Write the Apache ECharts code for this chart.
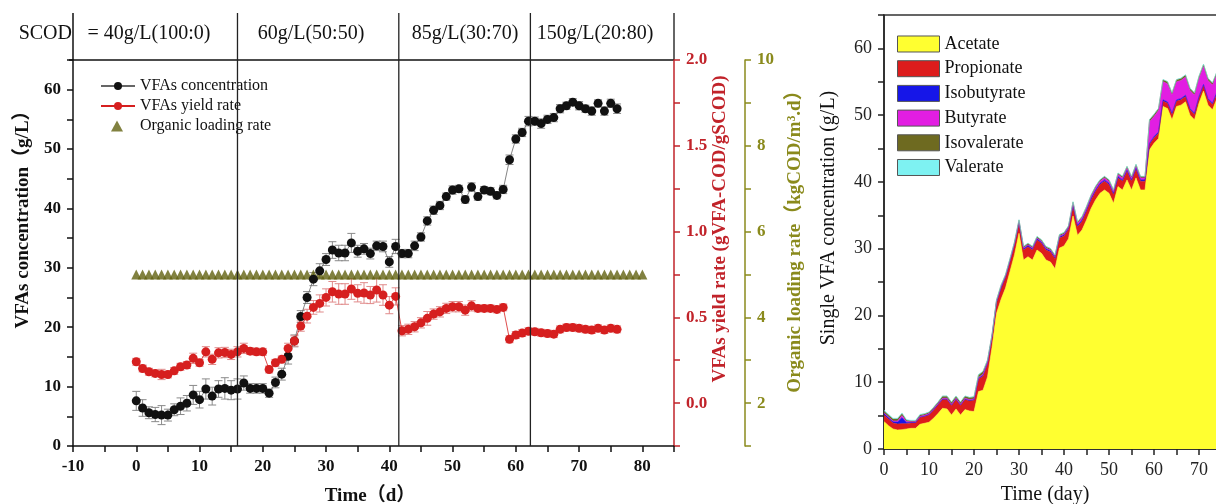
<!DOCTYPE html>
<html><head><meta charset="utf-8">
<script src="https://cdn.jsdelivr.net/npm/echarts@6/dist/echarts.min.js"></script>
<style>html,body{margin:0;padding:0;background:#fff}#c{width:1216px;height:504px}</style>
</head><body><div id="c"></div>
<script>
// ---------- data ----------
const days = [0,1,2,3,4,5,6,7,8,9,10,11,12,13,14,15,16,17,18,19,20,21,22,23,24,25,26,27,28,29,30,31,32,33,34,35,36,37,38,39,40,41,42,43,44,45,46,47,48,49,50,51,52,53,54,55,56,57,58,59,60,61,62,63,64,65,66,67,68,69,70,71,72,73,74,75,76];
const vfaConc = [7.6,6.4,5.6,5.3,5.2,5.2,6.1,6.7,7.2,8.6,7.8,9.6,8.4,9.6,9.7,9.4,9.6,10.6,9.7,9.7,9.7,8.9,10.7,12.1,15.1,17.7,21.8,25.0,28.1,29.5,31.4,33.0,32.5,32.5,34.2,32.8,33.2,32.4,33.7,33.6,31.0,33.6,32.4,32.4,33.7,35.2,37.9,39.7,40.5,42.0,43.1,43.3,41.5,43.6,42.0,43.1,42.9,42.2,43.2,48.2,51.7,52.8,54.7,54.7,54.3,55.0,55.3,56.8,57.3,57.9,57.3,56.8,56.4,57.7,56.4,57.7,56.8];
const vfaConcErr = [1.6,1.4,1.0,1.2,1.6,1.0,1.0,1.4,1.3,1.6,1.4,1.7,1.5,1.4,1.8,1.6,1.7,1.2,0.8,0.8,0.8,0.7,0.9,1.0,1.3,1.0,1.0,1.0,1.1,1.2,1.0,1.4,1.3,1.3,1.6,1.0,0.9,0.9,0.8,0.9,0.9,1.2,0.7,0.7,0.8,0.7,0.7,0.7,0.7,0.6,0.7,0.6,0.6,0.7,0.6,0.6,0.6,0.6,0.7,0.8,0.7,0.7,0.8,0.7,0.8,0.7,0.7,0.7,0.6,0.6,0.7,0.6,0.7,0.6,0.7,0.7,0.8];
const vfaYield = [0.241,0.202,0.183,0.173,0.167,0.167,0.188,0.212,0.222,0.261,0.235,0.299,0.255,0.293,0.295,0.284,0.299,0.319,0.303,0.299,0.299,0.196,0.235,0.255,0.319,0.362,0.449,0.507,0.558,0.581,0.616,0.649,0.636,0.636,0.665,0.640,0.642,0.630,0.659,0.630,0.571,0.622,0.422,0.430,0.445,0.468,0.494,0.519,0.532,0.552,0.562,0.562,0.542,0.567,0.552,0.552,0.552,0.546,0.558,0.372,0.397,0.408,0.419,0.416,0.410,0.406,0.402,0.430,0.441,0.441,0.436,0.430,0.426,0.436,0.426,0.436,0.430];
const vfaYieldErr = [0.02,0.02,0.02,0.02,0.03,0.02,0.02,0.02,0.02,0.03,0.02,0.03,0.03,0.03,0.03,0.03,0.03,0.03,0.02,0.02,0.02,0.02,0.02,0.02,0.03,0.03,0.03,0.04,0.04,0.05,0.05,0.06,0.06,0.06,0.06,0.05,0.06,0.05,0.07,0.06,0.05,0.05,0.03,0.03,0.03,0.03,0.04,0.03,0.03,0.03,0.03,0.03,0.03,0.03,0.02,0.02,0.02,0.02,0.02,0.02,0.02,0.02,0.02,0.02,0.02,0.02,0.02,0.02,0.02,0.02,0.02,0.02,0.02,0.02,0.02,0.02,0.02];
const olrDays = [0,1,2,3,4,5,6,7,8,9,10,11,12,13,14,15,16,17,18,19,20,21,22,23,24,25,26,27,28,29,30,31,32,33,34,35,36,37,38,39,40,41,42,43,44,45,46,47,48,49,50,51,52,53,54,55,56,57,58,59,60,61,62,63,64,65,66,67,68,69,70,71,72,73,74,75,76,77,78,79,80];
const olr = [5.0,5.0,5.0,5.0,5.0,5.0,5.0,5.0,5.0,5.0,5.0,5.0,5.0,5.0,5.0,5.0,5.0,5.0,5.0,5.0,5.0,5.0,5.0,5.0,5.0,5.0,5.0,5.0,5.0,5.0,5.0,5.0,5.0,5.0,5.0,5.0,5.0,5.0,5.0,5.0,5.0,5.0,5.0,5.0,5.0,5.0,5.0,5.0,5.0,5.0,5.0,5.0,5.0,5.0,5.0,5.0,5.0,5.0,5.0,5.0,5.0,5.0,5.0,5.0,5.0,5.0,5.0,5.0,5.0,5.0,5.0,5.0,5.0,5.0,5.0,5.0,5.0,5.0,5.0,5.0,5.0];
const phaseDays = [16, 41.5, 62.3];
const phaseLabels = ['= 40g/L(100:0)', '60g/L(50:50)', '85g/L(30:70)', '150g/L(20:80)'];
const xRangeLeft = [-10, 85];
const acidAxisDays = ['0','1','2','3','4','5','6','7','8','9','10','11','12','13','14','15','16','17','18','19','20','21','22','23','24','25','26','27','28','29','30','31','32','33','34','35','36','37','38','39','40','41','42','43','44','45','46','47','48','49','50','51','52','53','54','55','56','57','58','59','60','61','62','63','64','65','66','67','68','69','70','71','72','73','74','75','76','77','78','79','80'];
const acetate = [4.1,3.5,3.0,2.85,2.9,3.0,3.1,3.1,3.7,3.85,4.0,4.6,5.3,6.1,6.0,5.1,6.0,5.1,5.9,5.7,5.6,8.6,8.8,10.8,15.2,20.3,22.4,24.1,26.6,29.1,32.3,28.3,28.8,28.3,29.8,29.3,28.3,28.0,27.0,30.1,30.4,31.5,34.9,32.0,32.8,34.3,36.0,37.3,38.3,38.8,38.3,36.8,39.3,38.8,40.3,38.8,40.6,38.8,38.8,44.8,45.8,46.5,51.3,51.0,49.3,51.3,51.5,52.0,50.0,49.3,51.8,53.6,51.5,50.8,52.5,52.0,52.5];
const propionate = [1.0,1.0,0.9,0.9,0.9,0.8,0.8,0.8,1.0,1.0,1.1,1.2,1.3,1.3,1.4,1.4,1.4,1.4,1.5,1.5,1.7,1.9,2.1,1.9,1.5,1.6,1.6,1.6,1.5,1.5,1.5,1.5,1.5,1.5,1.5,1.5,1.5,1.5,1.5,1.5,1.5,1.4,1.4,1.3,1.3,1.3,1.3,1.3,1.3,1.3,1.3,1.3,1.3,1.3,1.3,1.3,1.3,1.3,1.3,0.8,0.8,0.8,0.8,0.8,0.8,0.8,0.8,0.8,0.8,0.8,0.8,0.8,0.8,0.8,0.8,0.8,0.8];
const isobutyrate = [0.2,0.2,0.2,0.3,0.9,0.2,0.1,0.1,0.1,0.1,0.1,0.1,0.1,0.1,0.1,0.1,0.1,0.1,0.1,0.1,0.1,0.1,0.2,0.2,0.1,0.1,0.1,0.1,0.1,0.1,0.2,0.2,0.2,0.2,0.2,0.2,0.2,0.2,0.2,0.2,0.2,0.2,0.2,0.2,0.2,0.2,0.2,0.2,0.2,0.2,0.2,0.2,0.2,0.2,0.2,0.2,0.2,0.2,0.2,0.2,0.2,0.2,0.2,0.2,0.2,0.2,0.2,0.2,0.2,0.2,0.2,0.2,0.2,0.2,0.2,0.2,0.2];
const butyrate = [0.1,0.1,0.1,0.15,0.3,0.1,0.1,0.1,0.1,0.1,0.1,0.1,0.1,0.1,0.1,0.1,0.1,0.1,0.1,0.1,0.1,0.1,0.1,0.1,0.1,0.1,0.2,0.1,0.1,0.1,0.1,0.1,0.1,0.1,0.1,0.1,0.1,0.1,0.1,0.1,0.1,0.1,0.3,0.3,0.3,0.3,0.3,0.3,0.3,0.3,0.3,0.3,0.3,0.3,0.3,0.3,0.3,0.3,0.3,3.2,3.0,3.2,2.7,2.7,2.7,2.7,2.7,2.7,2.7,2.7,2.7,2.7,2.7,2.7,2.7,2.7,2.7];
const isovalerate = [0.3,0.3,0.3,0.3,0.3,0.2,0.1,0.1,0.2,0.2,0.2,0.2,0.2,0.3,0.3,0.3,0.3,0.3,0.3,0.3,0.3,0.4,0.4,0.3,0.2,0.2,0.2,0.2,0.2,0.2,0.2,0.2,0.2,0.2,0.2,0.2,0.2,0.2,0.2,0.2,0.2,0.2,0.2,0.2,0.2,0.2,0.2,0.2,0.2,0.2,0.2,0.2,0.2,0.2,0.2,0.2,0.2,0.2,0.2,0.3,0.3,0.3,0.3,0.3,0.3,0.3,0.3,0.3,0.3,0.3,0.3,0.3,0.3,0.3,0.3,0.3,0.3];
const valerate = [0.1,0.1,0.1,0.1,0.1,0.1,0.1,0.1,0.1,0.05,0.05,0.05,0.05,0.05,0.05,0.05,0.05,0.05,0.05,0.05,0.05,0.05,0.05,0.05,0.05,0.05,0.05,0.05,0.05,0.05,0.05,0.05,0.05,0.05,0.05,0.05,0.05,0.05,0.05,0.05,0.05,0.05,0.05,0.05,0.05,0.05,0.05,0.05,0.05,0.05,0.05,0.05,0.05,0.05,0.05,0.05,0.05,0.05,0.05,0.05,0.05,0.05,0.05,0.05,0.05,0.05,0.05,0.05,0.05,0.05,0.05,0.05,0.05,0.05,0.05,0.05,0.05];
const acidNames = ['Acetate','Propionate','Isobutyrate','Butyrate','Isovalerate','Valerate'];
const acidValues = [acetate, propionate, isobutyrate, butyrate, isovalerate, valerate];
const acidColors = ['#ffff30','#dd1c1c','#1616e8','#e21ee2','#6e6a20','#7ef2f2'];

// ---------- chart ----------
const serif = "'Liberation Serif', 'Noto Sans CJK SC', serif";
const RED = '#c1232a', OLIVE = '#8a8a1c', BLACK = '#111';
const chart = echarts.init(document.getElementById('c'), null, {renderer: 'canvas'});

function everyNth(step) {
  return function (v) { const q = v / step; return Math.abs(q - Math.round(q)) < 1e-6 ? String(v) : ''; };
}
function errSeries(name, yAxisIndex, vals, errs, color) {
  return {
    type: 'custom', name: name, xAxisIndex: 0, yAxisIndex: yAxisIndex, z: 2, silent: true,
    data: days.map((d, i) => [d, vals[i] - errs[i], vals[i] + errs[i]]),
    encode: {x: 0, y: [1, 2]},
    renderItem: function (params, api) {
      const x = api.value(0);
      const lo = api.coord([x, api.value(1)]);
      const hi = api.coord([x, api.value(2)]);
      const w = 4, st = {stroke: color, lineWidth: 1};
      return {type: 'group', children: [
        {type: 'line', shape: {x1: lo[0], y1: lo[1], x2: hi[0], y2: hi[1]}, style: st},
        {type: 'line', shape: {x1: lo[0] - w, y1: lo[1], x2: lo[0] + w, y2: lo[1]}, style: st},
        {type: 'line', shape: {x1: hi[0] - w, y1: hi[1], x2: hi[0] + w, y2: hi[1]}, style: st}
      ]};
    }
  };
}

const axisCommon = (color, bold, size) => ({
  axisLine: {show: true, onZero: false, lineStyle: {color: color, width: 1.5}},
  axisTick: {show: true, inside: false, length: 6, lineStyle: {color: color, width: 1.5}},
  splitLine: {show: false},
  axisLabel: {color: color, fontFamily: serif, fontSize: size, fontWeight: bold ? 'bold' : 'normal', margin: 12}
});

const rightX = Object.assign(axisCommon('#222', false, 18), {
  type: 'category', gridIndex: 1, data: acidAxisDays, boundaryGap: false
});
rightX.axisTick.interval = function (i) { return i % 5 === 0; };
rightX.axisLabel.interval = function (i) { return i % 10 === 0; };

const option = {
  animation: false,
  backgroundColor: '#fff',
  grid: [
    {left: 73, top: 60, width: 601, height: 386, outerBoundsMode: 'none', containLabel: false},
    {left: 884, top: 15, width: 360, height: 434, outerBoundsMode: 'none', containLabel: false,
     show: true, borderColor: '#333', borderWidth: 1.5, backgroundColor: 'transparent'}
  ],
  xAxis: [
    Object.assign(axisCommon(BLACK, true, 17), {type: 'value', gridIndex: 0, min: xRangeLeft[0], max: xRangeLeft[1], interval: 5}),
    rightX
  ],
  yAxis: [
    Object.assign(axisCommon(BLACK, true, 17), {type: 'value', gridIndex: 0, position: 'left', min: 0, max: 65, interval: 5}),
    Object.assign(axisCommon(RED, true, 17), {type: 'value', gridIndex: 0, position: 'right', min: -0.25, max: 2.0, interval: 0.25}),
    Object.assign(axisCommon(OLIVE, true, 17), {type: 'value', gridIndex: 0, position: 'right', offset: 71, min: 1, max: 10, interval: 1}),
    Object.assign(axisCommon('#222', false, 18), {type: 'value', gridIndex: 1, position: 'left', min: 0, max: 65, interval: 5})
  ],
  legend: [
    {
      data: ['VFAs concentration', 'VFAs yield rate'],
      orient: 'vertical', left: 95, top: 73, itemWidth: 34, itemHeight: 10, itemGap: 4,
      textStyle: {fontFamily: serif, fontSize: 16, color: BLACK}
    },
    {
      data: [{name: 'Organic loading rate', icon: 'triangle'}],
      orient: 'vertical', left: 106, top: 113, itemWidth: 12, itemHeight: 11,
      textStyle: {fontFamily: serif, fontSize: 16, color: BLACK, padding: [0, 0, 0, 12]}
    },
    {
      data: acidNames, orient: 'vertical', left: 892, top: 30, icon: 'rect',
      itemWidth: 42, itemHeight: 16, itemGap: 6.7,
      itemStyle: {borderColor: '#555', borderWidth: 1},
      textStyle: {fontFamily: serif, fontSize: 18, color: BLACK}
    }
  ],
  series: [
    errSeries('concErr', 0, vfaConc, vfaConcErr, '#8a8a8a'),
    errSeries('yieldErr', 1, vfaYield, vfaYieldErr, '#e08a8a'),
    {
      name: 'VFAs concentration', type: 'line', xAxisIndex: 0, yAxisIndex: 0, z: 4,
      data: days.map((d, i) => [d, vfaConc[i]]),
      symbol: 'circle', symbolSize: 9, showAllSymbol: true,
      itemStyle: {color: BLACK}, lineStyle: {color: '#666', width: 0.8}
    },
    {
      name: 'VFAs yield rate', type: 'line', xAxisIndex: 0, yAxisIndex: 1, z: 4,
      data: days.map((d, i) => [d, vfaYield[i]]),
      symbol: 'circle', symbolSize: 9, showAllSymbol: true,
      itemStyle: {color: '#d61f1f'}, lineStyle: {color: '#d61f1f', width: 0.8}
    },
    {
      name: 'Organic loading rate', type: 'scatter', xAxisIndex: 0, yAxisIndex: 2, z: 3,
      data: olrDays.map((d, i) => [d, olr[i]]),
      symbol: 'triangle', symbolSize: [10, 10],
      itemStyle: {color: '#626210'}
    }
  ].concat(acidNames.map((n, k) => ({
    name: n, type: 'line', xAxisIndex: 1, yAxisIndex: 3, stack: 'vfa', z: 2,
    data: acidValues[k],
    showSymbol: false, symbol: 'none',
    lineStyle: {width: 0.6, color: acidColors[k]},
    itemStyle: {color: acidColors[k]},
    areaStyle: {color: acidColors[k], opacity: 1}
  })))
};
option.xAxis[0].axisLabel.formatter = everyNth(10);
option.yAxis[0].axisLabel.formatter = everyNth(10);
option.yAxis[3].axisLabel.formatter = everyNth(10);
option.yAxis[1].axisLabel.formatter = function (v) { const q = v / 0.5; return Math.abs(q - Math.round(q)) < 1e-6 ? v.toFixed(1) : ''; };
option.yAxis[2].axisLabel.formatter = everyNth(2);
chart.setOption(option);

// ---------- header box, phase dividers and axis titles ----------
const yTop = 13, yAxisTop = 60, yBottom = 446;
const graphics = [
  {type: 'line', shape: {x1: 73, y1: yTop, x2: 73, y2: yAxisTop}, style: {stroke: BLACK, lineWidth: 1.5}},
  {type: 'line', shape: {x1: 674, y1: yTop, x2: 674, y2: yAxisTop}, style: {stroke: '#333', lineWidth: 1.5}},
  {type: 'line', shape: {x1: 69, y1: yAxisTop, x2: 674, y2: yAxisTop}, style: {stroke: BLACK, lineWidth: 1.5}},
  {type: 'text', x: 72, y: 34, style: {text: 'SCOD', font: '20px ' + serif, fill: BLACK, align: 'right', verticalAlign: 'middle'}}
];
phaseDays.forEach(d => {
  const px = chart.convertToPixel({xAxisIndex: 0}, d);
  graphics.push({type: 'line', z: 10, shape: {x1: px, y1: yTop, x2: px, y2: yBottom}, style: {stroke: '#222', lineWidth: 1.3}});
});
const labelCenters = [149, 311, 465, 595];
phaseLabels.forEach((t, i) => {
  graphics.push({type: 'text', x: labelCenters[i], y: 34, style: {text: t, font: '20px ' + serif, fill: BLACK, align: 'center', verticalAlign: 'middle'}});
});
const vTitle = (x, y, text, color, weight, size) => ({
  type: 'text', x: x, y: y, rotation: Math.PI / 2,
  style: {text: text, font: weight + ' ' + size + 'px ' + serif, fill: color, align: 'center', verticalAlign: 'middle'}
});
graphics.push(vTitle(23, 215, 'VFAs concentration（g/L）', BLACK, 'bold', 19));
graphics.push(vTitle(720, 229, 'VFAs yield rate (gVFA-COD/gSCOD)', RED, 'bold', 19));
graphics.push(vTitle(795, 237, 'Organic loading rate（kgCOD/m³.d）', OLIVE, 'bold', 19));
graphics.push(vTitle(829, 218, 'Single VFA concentration (g/L)', BLACK, 'normal', 20));
graphics.push({type: 'text', x: 370, y: 496, style: {text: 'Time（d）', font: 'bold 19px ' + serif, fill: BLACK, align: 'center', verticalAlign: 'middle'}});
graphics.push({type: 'text', x: 1045, y: 495, style: {text: 'Time (day)', font: '20px ' + serif, fill: BLACK, align: 'center', verticalAlign: 'middle'}});
chart.setOption({graphic: graphics});
</script>
</body></html>
